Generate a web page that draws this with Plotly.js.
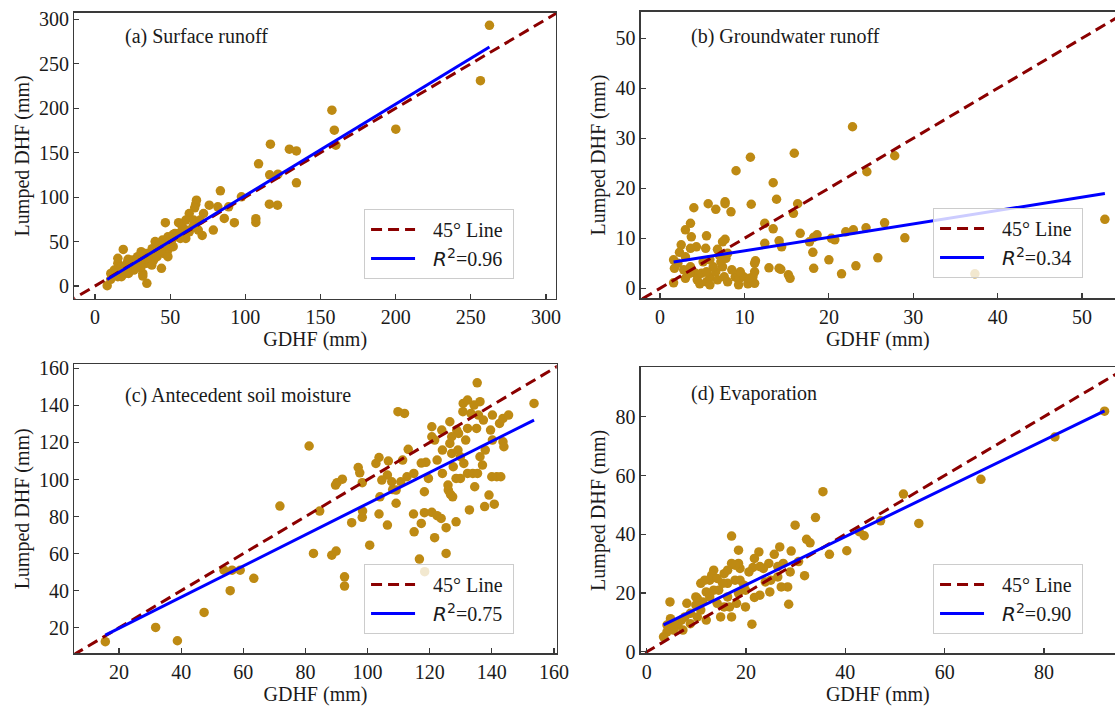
<!DOCTYPE html>
<html><head><meta charset="utf-8">
<script src="https://cdn.plot.ly/plotly-3.0.1.min.js"></script>
<style>html,body{margin:0;padding:0;background:#fff}</style>
</head><body><div id="chart" style="width:1115px;height:706px"></div>
<script>
// ---------- data ----------
const panelLabels = ['(a) Surface runoff', '(b) Groundwater runoff', '(c) Antecedent soil moisture', '(d) Evaporation'];
const xAxisTitle = 'GDHF (mm)';
const yAxisTitle = 'Lumped DHF (mm)';
const lineLabel45 = '45° Line';
const r2Values = ['0.96', '0.34', '0.75', '0.90'];
const fitSlope = [1.029, 0.268, 0.841, 0.820];
const fitIntercept = [-1.1, 4.82, 2.9, 6.4];

const surfaceX = [262.4,256.4,200.1,157.6,159.2,160.2,116.7,129.3,134,134,108.8,116.2,121.7,116,121.4,107,107,92.7,86,83.4,78.7,97.4,88.9,76,72.2,67.5,67,66.3,62.7,60.4,62.7,68.7,71.3,65.6,55.6,46.8,58,53.2,48.5,44.9,50.9,42.5,45.6,48.5,41.3,44.2,39,34.2,31.8,34.2,28.3,31.8,34.5,31.8,18.8,15.2,8.1,12.8,17.6,21.2,23.5,20,15.2,24.7,27.1,30.7,36.6,39,41.3,47.3,49.7,53.2,55.6,60.4,65.1,46.1,43.7,41.3,37.8,22.3,17.6,10.5,15.2,10.5,25.9,29.5,30.7,48.5,52,56.8,60.4,69.9,81.7,19,26,33,38,44,50,52,35,27,22,14,40];
const surfaceY = [293.3,231,176.4,197.8,175.3,158.4,159.6,153.9,152,116.1,137.5,125.1,125.8,92.1,91,75.7,71.5,71.2,76,107.1,62.9,100.4,89.1,91,81.6,96.6,92.1,88,81.6,74.2,61,62.9,56.9,74.2,71.2,71.2,66.7,59.2,55.4,51.7,50.9,46.1,36.7,40.4,36.7,19.9,29.2,25.5,33,36.7,33,14.2,3,11.2,41.2,25.5,0.4,18,21.7,25.5,21.7,14.2,10.5,29.2,25.5,21.7,36.7,40.4,33,46.1,49.8,55.4,59.2,62.9,66.7,41.2,47.9,44.2,23.6,14.2,10.5,7.5,31.1,14.2,18,29.2,38.6,33,44.2,53.6,53.6,74.2,89.1,20,28,30,42,40,46,58,32,20,30,15,50];

const groundX = [22.8,10.7,15.9,27.8,9.0,24.5,13.4,13.8,7.7,7.7,5.7,10.8,16.3,4.0,6.6,8.4,15.8,3.6,12.4,3.0,13.4,26.6,16.6,24.4,22.9,22,18.6,18.2,29,20.7,20.3,17.7,14.1,14.4,12.4,11.3,11.2,18.1,20,25.8,23.2,12.9,14.1,14.3,18.2,21.5,15.2,15.4,37.3,52.7,5.5,3.7,4.3,2.5,2.3,3.6,5.4,6.8,7.7,7.4,7.0,5.9,5.1,1.6,1.7,1.6,3.0,2.8,3.6,4.2,4.4,4.7,5.5,5.9,6.6,6.8,7.6,8.0,8.9,9.3,9.9,10.4,10.8,11.2,11.0,11.2,9.5,8.5,7.4,6.3,4.9,7.2,7.8,8.0,3.0,2.1,3.5,5.9,9.3,10.6,5.5];
const groundY = [32.3,26.2,27,26.5,23.5,23.3,21.1,17.8,17.3,16.9,16.9,16.8,16.9,16.1,15.8,15.3,15,13,13,11.7,11.9,13.1,11,12.1,11.7,11.3,10.7,10.2,10.1,9.7,10,9.3,9.5,8.3,9,5.5,5,7.2,5.7,6.1,4.5,4.1,4,3.8,4,2.9,2.7,2,2.9,13.8,10.5,10.3,8.3,8.7,7.2,8,8,7.8,9.8,9.3,6.7,5.7,5.3,5.7,4,1.1,2,3.7,4.3,3,1.7,0.9,1.3,2.3,3.3,1.7,2.3,1.3,2.3,1.7,2.3,0.9,1.3,1,2.3,3.3,3.3,3.7,4.3,4.3,3,5.3,6,7,6.3,5,3,0.7,0.7,2,3.3];

const soilX = [15.6,31.8,38.8,47.4,55.8,53.8,56.4,59,63.4,71.8,81.2,82.6,84.6,88.5,89.9,92.6,92.6,90.2,91.9,89.7,94.9,97,97.5,98.3,98.4,98.3,100.7,102.7,103.7,103.7,106.4,106.4,107.8,108.1,106.7,109.8,111.9,111.3,112.7,113.1,114.8,116.7,118.3,118.3,118.8,118.4,119.6,120.7,121.6,122.4,123.7,125.3,125.3,120.7,120.7,121.6,123.9,125.9,126,126.7,127.4,126.5,126.5,127.1,127.6,128.5,128.5,129.9,129.1,129.3,130.8,130.7,132.2,131.6,133.3,132.2,132.8,133.9,134.3,135.3,135.7,135.1,136.2,137,135.4,134.5,137.7,139.1,140,141.6,142.9,140.8,140.2,139.6,140.2,142.5,143.6,145.4,143.6,143.9,153.6,128.7,117.3,122.4,124.1,114.9,131,129.9,127.1,124.1,137.9,132.2,137.3,136.2,117.3,115,109.2,110.7,109.2,104.6,104];
const soilY = [12.5,20.2,13,28.3,40,51.1,51.1,51.1,46.7,85.7,118.1,60.1,83,59.2,61.4,47.5,42.5,98.3,100.2,97,76.7,106.5,103.6,98.3,83,79.6,64.6,108.7,111.9,81.4,75.4,102.4,98.8,94.6,110,136.6,135.7,110.5,101.5,116.3,81.4,57.1,82.1,93.4,109.3,50.3,100.6,82.3,68.6,80.5,79,74,60.1,128.5,123.1,121.3,126.7,97,94.3,92,90.7,131.2,119.5,114.1,106.9,100.6,77.2,100.6,115.9,124.9,141.1,136.6,127.6,121.3,135.7,103.3,83.6,103.3,140.2,152.2,134.8,127.6,112.3,107.8,103.3,96.1,85.4,91.6,101.5,101.5,101.5,86.7,121.3,126.7,134.8,130.3,133,134.8,120.4,117.7,141.1,126.7,108.9,110.5,115.9,103.3,108.7,112.3,123.1,103.3,115.9,142.9,132.1,142,76.3,71.8,94.3,98.8,87.2,99.7,90.7];

const evapX = [92.2,82.2,67.3,54.8,51.7,47.1,43.8,42.8,40.3,36.8,35.5,34,32.9,32.2,31.8,30.6,29.9,29.1,28.9,28.6,28.4,27.1,26.8,25.7,24.6,24.8,23.5,22.6,21.4,21.7,21.2,22.8,23.9,19.9,18.8,18.5,17.8,17.1,16.7,16.3,16.3,17.1,15.6,14.9,14.5,13.5,13.1,12.7,12,11.3,10.9,12,10.2,9.9,8.1,8.8,7.7,7,6.3,5.4,4.7,4.8,4.1,3.4,5.5,7.3,8.8,10.2,13.5,15.3,16.3,17.8,18.8,19.9,20.6,21.7,22.8,25,26.4,27.5,26.4,12.7,14.2,15.6,18.1,18.5,19.6,10.9,11.7,14.2,17.1,18.5,9.9,4.1];
const evapY = [81.9,73.1,58.7,43.7,53.7,44.6,39.5,40.9,34.4,33.2,54.5,45.7,37.1,38.3,25.9,30.7,43.1,34.3,27.2,16.2,22.1,22.1,35.7,33.2,30.1,20.4,28.4,34,28.7,18.5,9.4,19.3,23.8,15.3,28.4,30.1,24.4,39.4,15.3,23.3,18.7,11.9,26.6,11.9,21,27.8,26.1,24.4,20.4,17,14.2,10.8,18.2,15.9,16.5,13.1,11.9,10.8,9.1,7.4,17,11.3,6.8,5.1,9.6,7.4,9.6,11.9,21,23.3,27.8,29.5,24.4,21,27.2,31.8,29,24.4,25.5,30.1,29,18.7,16.5,15.3,16.5,19.9,22.7,23.3,24.4,25,30.1,34.6,18.7,9.1];

const seriesX = [surfaceX, groundX, soilX, evapX];
const seriesY = [surfaceY, groundY, soilY, evapY];

// ---------- layout config ----------
const FONT = 'Liberation Serif, Times New Roman, serif';
const ranges = [
  {x: [-13.8, 306.7], y: [-14.6, 307.5], tx: [0,50,100,150,200,250,300], ty: [0,50,100,150,200,250,300]},
  {x: [-2.3, 53.9], y: [-2.0, 55.3], tx: [0,10,20,30,40,50], ty: [0,10,20,30,40,50]},
  {x: [5.6, 160.9], y: [6.2, 162.2], tx: [20,40,60,80,100,120,140,160], ty: [20,40,60,80,100,120,140,160]},
  {x: [-1.2, 94.3], y: [-0.5, 96.8], tx: [0,20,40,60,80], ty: [0,20,40,60,80]}
];
const domains = [
  {x: [0.0666, 0.4987], y: [0.5765, 0.982]},
  {x: [0.5746, 1.0], y: [0.5775, 0.9834]},
  {x: [0.0666, 0.4993], y: [0.0746, 0.484]},
  {x: [0.5746, 1.0], y: [0.0746, 0.4797]}
];
const rightCut = [false, true, false, true];
const legendPos = [
  {x: 0.3265, y: 0.704}, {x: 0.8368, y: 0.7054}, {x: 0.3265, y: 0.2011}, {x: 0.8368, y: 0.2011}
];
const labelPos = [
  {x: 122.5/1115, y: 1 - 37/706}, {x: 689/1115, y: 1 - 37/706},
  {x: 122.5/1115, y: 1 - 395/706}, {x: 689/1115, y: 1 - 393/706}
];

const traces = [];
const layout = {
  width: 1115, height: 706,
  margin: {l: 0, r: 0, t: 0, b: 0},
  paper_bgcolor: '#fff', plot_bgcolor: '#fff',
  font: {family: FONT, size: 20, color: '#1a1a1a'},
  showlegend: true,
  annotations: []
};

for (let i = 0; i < 4; i++) {
  const n = i === 0 ? '' : String(i + 1);
  const xa = 'x' + n, ya = 'y' + n;
  const lg = 'legend' + n;
  const lo = Math.min(ranges[i].x[0], ranges[i].y[0]) - 5;
  const hi = Math.max(ranges[i].x[1], ranges[i].y[1]) + 5;
  const xs = seriesX[i];
  const xmin = Math.min(...xs), xmax = Math.max(...xs);

  traces.push({
    x: xs, y: seriesY[i], xaxis: xa, yaxis: ya, type: 'scatter', mode: 'markers',
    marker: {color: '#BE8A13', size: 9.5, line: {width: 0}},
    showlegend: false, hoverinfo: 'skip'
  });
  traces.push({
    x: [lo, hi], y: [lo, hi], xaxis: xa, yaxis: ya, type: 'scatter', mode: 'lines',
    line: {color: '#8B0000', width: 3, dash: '11px,6px'},
    name: lineLabel45, legend: lg, legendrank: 1, hoverinfo: 'skip'
  });
  traces.push({
    x: [xmin, xmax], y: [fitIntercept[i] + fitSlope[i] * xmin, fitIntercept[i] + fitSlope[i] * xmax],
    xaxis: xa, yaxis: ya, type: 'scatter', mode: 'lines',
    line: {color: '#0000FF', width: 3},
    name: '<span style="font-family:DejaVu Sans"><i>R</i><sup>2</sup></span>=' + r2Values[i] + '&nbsp;',
    legend: lg, legendrank: 2, hoverinfo: 'skip'
  });

  const axBase = {
    showgrid: false, zeroline: false, showline: true, linecolor: '#3a3a3a', linewidth: 1.3,
    ticks: 'inside', ticklen: 5, tickwidth: 1.2, tickcolor: '#3a3a3a',
    tickfont: {family: FONT, size: 20, color: '#1a1a1a'}, tickmode: 'array', fixedrange: true
  };
  layout['xaxis' + n] = Object.assign({}, axBase, {
    domain: domains[i].x, range: ranges[i].x, tickvals: ranges[i].tx, anchor: ya, mirror: true,
    title: {text: xAxisTitle, font: {family: FONT, size: 20, color: '#1a1a1a'}, standoff: 4}
  });
  layout['yaxis' + n] = Object.assign({}, axBase, {
    domain: domains[i].y, range: ranges[i].y, tickvals: ranges[i].ty, anchor: xa, mirror: !rightCut[i],
    title: {text: yAxisTitle, font: {family: FONT, size: 20, color: '#1a1a1a'}, standoff: 4}
  });
  layout[lg] = {
    x: legendPos[i].x, y: legendPos[i].y, xanchor: 'left', yanchor: 'top',
    bgcolor: 'rgba(255,255,255,0.8)', bordercolor: '#cccccc', borderwidth: 1,
    font: {family: FONT, size: 20, color: '#1a1a1a'}, itemwidth: 58, tracegroupgap: 0
  };
  layout.annotations.push({
    xref: 'paper', yref: 'paper', x: labelPos[i].x, y: labelPos[i].y, xanchor: 'left', yanchor: 'middle',
    text: panelLabels[i], showarrow: false, font: {family: FONT, size: 20, color: '#1a1a1a'}
  });
}

Plotly.newPlot('chart', traces, layout, {displayModeBar: false, staticPlot: true}).then(function (gd) {
  // lengthen legend line samples to match the reference's longer handles
  gd.querySelectorAll('.legendlines path').forEach(function (p) { p.setAttribute('d', 'M6,0h44'); });
});
</script>
</body></html>
